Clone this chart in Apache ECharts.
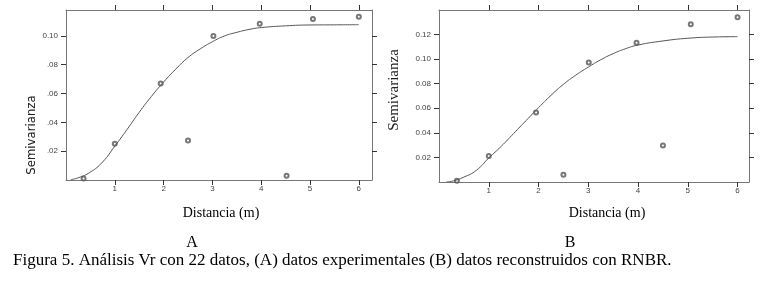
<!DOCTYPE html>
<html>
<head>
<meta charset="utf-8">
<script src="https://cdn.jsdelivr.net/npm/echarts@6/dist/echarts.min.js"></script>
<style>
  html, body { margin: 0; padding: 0; background: #fff; }
  #chart { width: 781px; height: 285px; }
</style>
</head>
<body>
<div id="chart"></div>
<script>
// experimental semivariance points [distance, value]
var puntosA = [[0.36, 0.001], [1.0, 0.0252], [1.94, 0.067], [2.5, 0.0275], [3.02, 0.100],
  [3.97, 0.1084], [4.52, 0.003], [5.06, 0.1118], [6.0, 0.1134]];
var puntosB = [[0.36, 0.001], [1.0, 0.0212], [1.95, 0.0565], [2.5, 0.006], [3.01, 0.0973],
  [3.97, 0.1133], [4.5, 0.0297], [5.06, 0.1283], [6.0, 0.1342]];

// fitted model curves
var modeloA = [[0.1, 0.0003], [0.25, 0.0015], [0.5, 0.0055], [0.75, 0.0125], [1.0, 0.0235],
  [1.25, 0.035], [1.5, 0.047], [1.75, 0.058], [2.0, 0.068], [2.25, 0.077], [2.5, 0.085],
  [2.75, 0.091], [3.0, 0.096], [3.25, 0.100], [3.5, 0.1025], [3.75, 0.1045], [4.0, 0.1058],
  [4.5, 0.107], [5.0, 0.1076], [5.5, 0.1077], [6.0, 0.1078]];
var modeloB = [[0.15, 0.0], [0.25, 0.0005], [0.5, 0.004], [0.75, 0.0095], [1.0, 0.0195],
  [1.25, 0.029], [1.5, 0.0395], [1.75, 0.050], [2.0, 0.0605], [2.25, 0.0705], [2.5, 0.0795],
  [2.75, 0.087], [3.0, 0.0935], [3.25, 0.0995], [3.5, 0.1045], [3.75, 0.1085], [4.0, 0.1115],
  [4.5, 0.1148], [5.0, 0.117], [5.5, 0.118], [6.0, 0.1183]];

// ticks
var xTicks = [1, 2, 3, 4, 5, 6];
var yTicksA = [0.02, 0.04, 0.06, 0.08, 0.10];
var yLabelsA = ['.02', '.04', '.06', '.08', '0.10'];
var yTicksB = [0.02, 0.04, 0.06, 0.08, 0.10, 0.12];
var yLabelsB = ['0.02', '0.04', '0.06', '0.08', '0.10', '0.12'];

var lineCol = '#777';
var tickFont = { fontSize: 8, color: '#444', fontFamily: 'Liberation Sans, Arial, sans-serif' };

function ejeX(grid, max, pos, labels) {
  return {
    type: 'value', gridIndex: grid, min: 0, max: max, position: pos,
    axisLine: { show: true, onZero: false, lineStyle: { color: lineCol, width: 1 } },
    axisTick: { show: true, length: 5, customValues: xTicks, lineStyle: { color: '#333' } },
    axisLabel: Object.assign({ show: labels, margin: 5, customValues: xTicks }, tickFont),
    splitLine: { show: false }
  };
}
function ejeY(grid, max, pos, ticks, names, labels) {
  return {
    type: 'value', gridIndex: grid, min: 0, max: max, position: pos,
    axisLine: { show: true, onZero: false, lineStyle: { color: lineCol, width: 1 } },
    axisTick: { show: true, length: 5, customValues: ticks, lineStyle: { color: '#333' } },
    axisLabel: Object.assign({
      show: labels, margin: 8, customValues: ticks,
      formatter: function (v) {
        for (var i = 0; i < ticks.length; i++) if (Math.abs(ticks[i] - v) < 1e-6) return names[i];
        return '';
      }
    }, tickFont),
    splitLine: { show: false }
  };
}

var myChart = echarts.init(document.getElementById('chart'));

var option = {
  backgroundColor: '#fff',
  animation: false,
  grid: [
    { left: 66, top: 10, width: 306, height: 170 },
    { left: 439, top: 10, width: 310, height: 172 }
  ],
  xAxis: [
    ejeX(0, 6.27, 'bottom', true), ejeX(0, 6.27, 'top', false),
    ejeX(1, 6.23, 'bottom', true), ejeX(1, 6.23, 'top', false)
  ],
  yAxis: [
    ejeY(0, 0.118, 'left', yTicksA, yLabelsA, true), ejeY(0, 0.118, 'right', yTicksA, yLabelsA, false),
    ejeY(1, 0.14, 'left', yTicksB, yLabelsB, true), ejeY(1, 0.14, 'right', yTicksB, yLabelsB, false)
  ],
  series: [
    { type: 'line', xAxisIndex: 0, yAxisIndex: 0, data: modeloA, smooth: true, showSymbol: false,
      lineStyle: { color: '#555', width: 1 } },
    { type: 'scatter', xAxisIndex: 0, yAxisIndex: 0, data: puntosA, symbol: 'emptyCircle', symbolSize: 4,
      itemStyle: { color: '#555', borderWidth: 0.7 } },
    { type: 'line', xAxisIndex: 2, yAxisIndex: 2, data: modeloB, smooth: true, showSymbol: false,
      lineStyle: { color: '#555', width: 1 } },
    { type: 'scatter', xAxisIndex: 2, yAxisIndex: 2, data: puntosB, symbol: 'emptyCircle', symbolSize: 4,
      itemStyle: { color: '#555', borderWidth: 0.7 } }
  ],
  graphic: [
    { type: 'text', x: 32, y: 135, rotation: Math.PI / 2,
      style: { text: 'Semivarianza', font: '13px "Liberation Sans Narrow", "DejaVu Sans Condensed", sans-serif',
        fill: '#222', align: 'center', verticalAlign: 'middle' } },
    { type: 'text', x: 394, y: 90, rotation: Math.PI / 2,
      style: { text: 'Semivarianza', font: '15px "Liberation Serif", "Times New Roman", serif',
        fill: '#222', align: 'center', verticalAlign: 'middle' } },
    { type: 'text', x: 221, y: 213,
      style: { text: 'Distancia (m)', font: '14px "Liberation Serif", serif', fill: '#000',
        align: 'center', verticalAlign: 'middle' } },
    { type: 'text', x: 607, y: 213,
      style: { text: 'Distancia (m)', font: '14px "Liberation Serif", serif', fill: '#000',
        align: 'center', verticalAlign: 'middle' } },
    { type: 'text', x: 192, y: 243,
      style: { text: 'A', font: '16px "Liberation Serif", serif', fill: '#000',
        align: 'center', verticalAlign: 'middle' } },
    { type: 'text', x: 570, y: 243,
      style: { text: 'B', font: '16px "Liberation Serif", serif', fill: '#000',
        align: 'center', verticalAlign: 'middle' } },
    { type: 'text', x: 13, y: 261,
      style: { text: 'Figura 5. Análisis Vr con 22 datos, (A) datos experimentales (B) datos reconstruidos con RNBR.',
        font: '17px "Liberation Serif", serif', fill: '#000', align: 'left', verticalAlign: 'middle' } }
  ]
};

option && myChart.setOption(option);
</script>
</body>
</html>
